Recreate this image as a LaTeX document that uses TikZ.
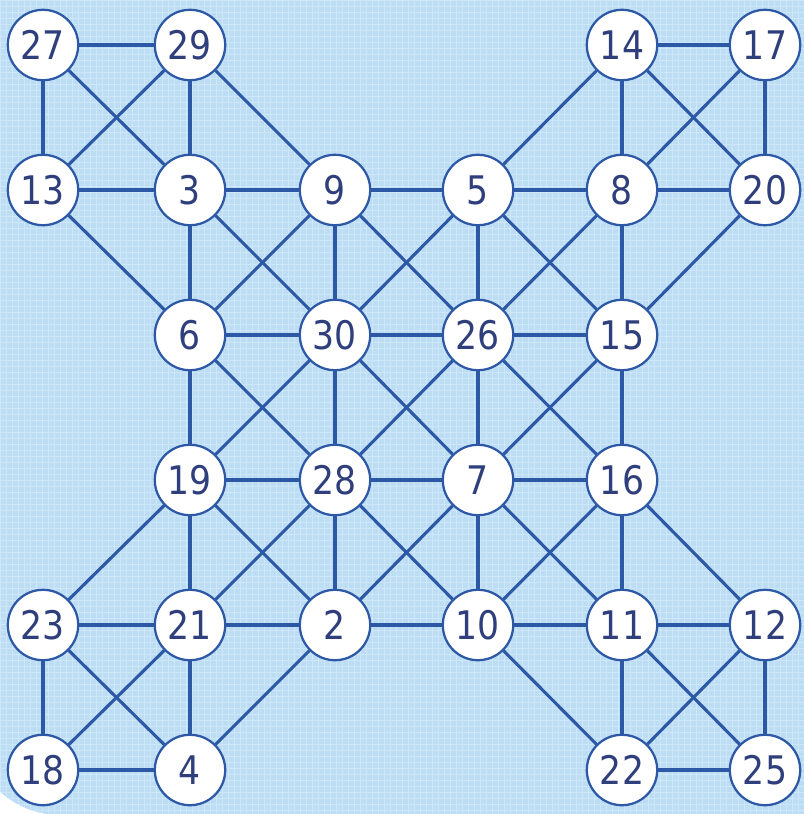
\documentclass[tikz,border=0pt]{standalone}
\usepackage{fontspec}
\setmainfont[FakeStretch=0.88]{DejaVu Sans}
\definecolor{paper}{HTML}{BCDDF4}
\definecolor{mesh}{HTML}{CDE7F8}
\definecolor{edgeblue}{HTML}{2C58A6}
\definecolor{numblue}{HTML}{2E3F7C}
\tikzset{
  vert/.style={circle, draw=edgeblue, line width=1.6pt, fill=white, minimum size=1.76cm,
    inner sep=0pt, text=numblue, font=\fontsize{28}{28}\selectfont},
  link/.style={edgeblue, line width=2.2pt}
}
\begin{document}
\begin{tikzpicture}[x=0.025cm, y=-0.025cm]
        \useasboundingbox (0,0) rectangle (804,814);
        % Paper
        \fill[paper] (0,0) rectangle (804,814);
        \draw[mesh, line width=0.5pt, step=0.15cm] (0,814) grid (804,0);
        \fill[white] (0,792) .. controls (14,804) and (28,811) .. (46,814) -- (0,814) -- cycle;
        % Vertices, row by row
        \node[vert] (n27) at (43,45) {27};
        \node[vert] (n29) at (190,45) {29};
        \node[vert] (n14) at (622,45) {14};
        \node[vert] (n17) at (765,45) {17};
        \node[vert] (n13) at (43,190) {13};
        \node[vert] (n3) at (190,190) {3};
        \node[vert] (n9) at (335,190) {9};
        \node[vert] (n5) at (478,190) {5};
        \node[vert] (n8) at (622,190) {8};
        \node[vert] (n20) at (765,190) {20};
        \node[vert] (n6) at (190,335) {6};
        \node[vert] (n30) at (335,335) {30};
        \node[vert] (n26) at (478,335) {26};
        \node[vert] (n15) at (622,335) {15};
        \node[vert] (n19) at (190,480) {19};
        \node[vert] (n28) at (335,480) {28};
        \node[vert] (n7) at (478,480) {7};
        \node[vert] (n16) at (622,480) {16};
        \node[vert] (n23) at (43,625) {23};
        \node[vert] (n21) at (190,625) {21};
        \node[vert] (n2) at (335,625) {2};
        \node[vert] (n10) at (478,625) {10};
        \node[vert] (n11) at (622,625) {11};
        \node[vert] (n12) at (765,625) {12};
        \node[vert] (n18) at (43,770) {18};
        \node[vert] (n4) at (190,770) {4};
        \node[vert] (n22) at (622,770) {22};
        \node[vert] (n25) at (765,770) {25};
        % Top left corner
        \draw[link] (n27) -- (n29); \draw[link] (n27) -- (n13); \draw[link] (n27) -- (n3);
        \draw[link] (n29) -- (n13); \draw[link] (n29) -- (n3); \draw[link] (n29) -- (n9);
        \draw[link] (n13) -- (n3); \draw[link] (n13) -- (n6);
        \draw[link] (n3) -- (n9); \draw[link] (n3) -- (n6); \draw[link] (n3) -- (n30);
        % Top right corner
        \draw[link] (n14) -- (n17); \draw[link] (n14) -- (n8); \draw[link] (n14) -- (n20); \draw[link] (n14) -- (n5);
        \draw[link] (n17) -- (n8); \draw[link] (n17) -- (n20);
        \draw[link] (n8) -- (n20); \draw[link] (n8) -- (n5); \draw[link] (n8) -- (n15); \draw[link] (n8) -- (n26);
        \draw[link] (n20) -- (n15);
        % Middle
        \draw[link] (n9) -- (n5); \draw[link] (n9) -- (n6); \draw[link] (n9) -- (n30); \draw[link] (n9) -- (n26);
        \draw[link] (n5) -- (n30); \draw[link] (n5) -- (n26); \draw[link] (n5) -- (n15);
        \draw[link] (n6) -- (n30); \draw[link] (n6) -- (n19); \draw[link] (n6) -- (n28);
        \draw[link] (n30) -- (n26); \draw[link] (n30) -- (n28); \draw[link] (n30) -- (n19); \draw[link] (n30) -- (n7);
        \draw[link] (n26) -- (n15); \draw[link] (n26) -- (n7); \draw[link] (n26) -- (n28); \draw[link] (n26) -- (n16);
        \draw[link] (n15) -- (n16); \draw[link] (n15) -- (n7);
        \draw[link] (n19) -- (n28); \draw[link] (n19) -- (n21); \draw[link] (n19) -- (n2);
        \draw[link] (n28) -- (n7); \draw[link] (n28) -- (n2); \draw[link] (n28) -- (n21); \draw[link] (n28) -- (n10);
        \draw[link] (n7) -- (n16); \draw[link] (n7) -- (n10); \draw[link] (n7) -- (n2); \draw[link] (n7) -- (n11);
        \draw[link] (n16) -- (n11); \draw[link] (n16) -- (n10); \draw[link] (n16) -- (n12);
        \draw[link] (n21) -- (n2); \draw[link] (n2) -- (n10); \draw[link] (n10) -- (n11);
        % Bottom left corner
        \draw[link] (n19) -- (n23); \draw[link] (n23) -- (n21); \draw[link] (n23) -- (n18); \draw[link] (n23) -- (n4);
        \draw[link] (n21) -- (n18); \draw[link] (n21) -- (n4);
        \draw[link] (n2) -- (n4); \draw[link] (n18) -- (n4);
        % Bottom right corner
        \draw[link] (n10) -- (n22);
        \draw[link] (n11) -- (n12); \draw[link] (n11) -- (n22); \draw[link] (n11) -- (n25);
        \draw[link] (n12) -- (n22); \draw[link] (n12) -- (n25); \draw[link] (n22) -- (n25);
\end{tikzpicture}
\end{document}
